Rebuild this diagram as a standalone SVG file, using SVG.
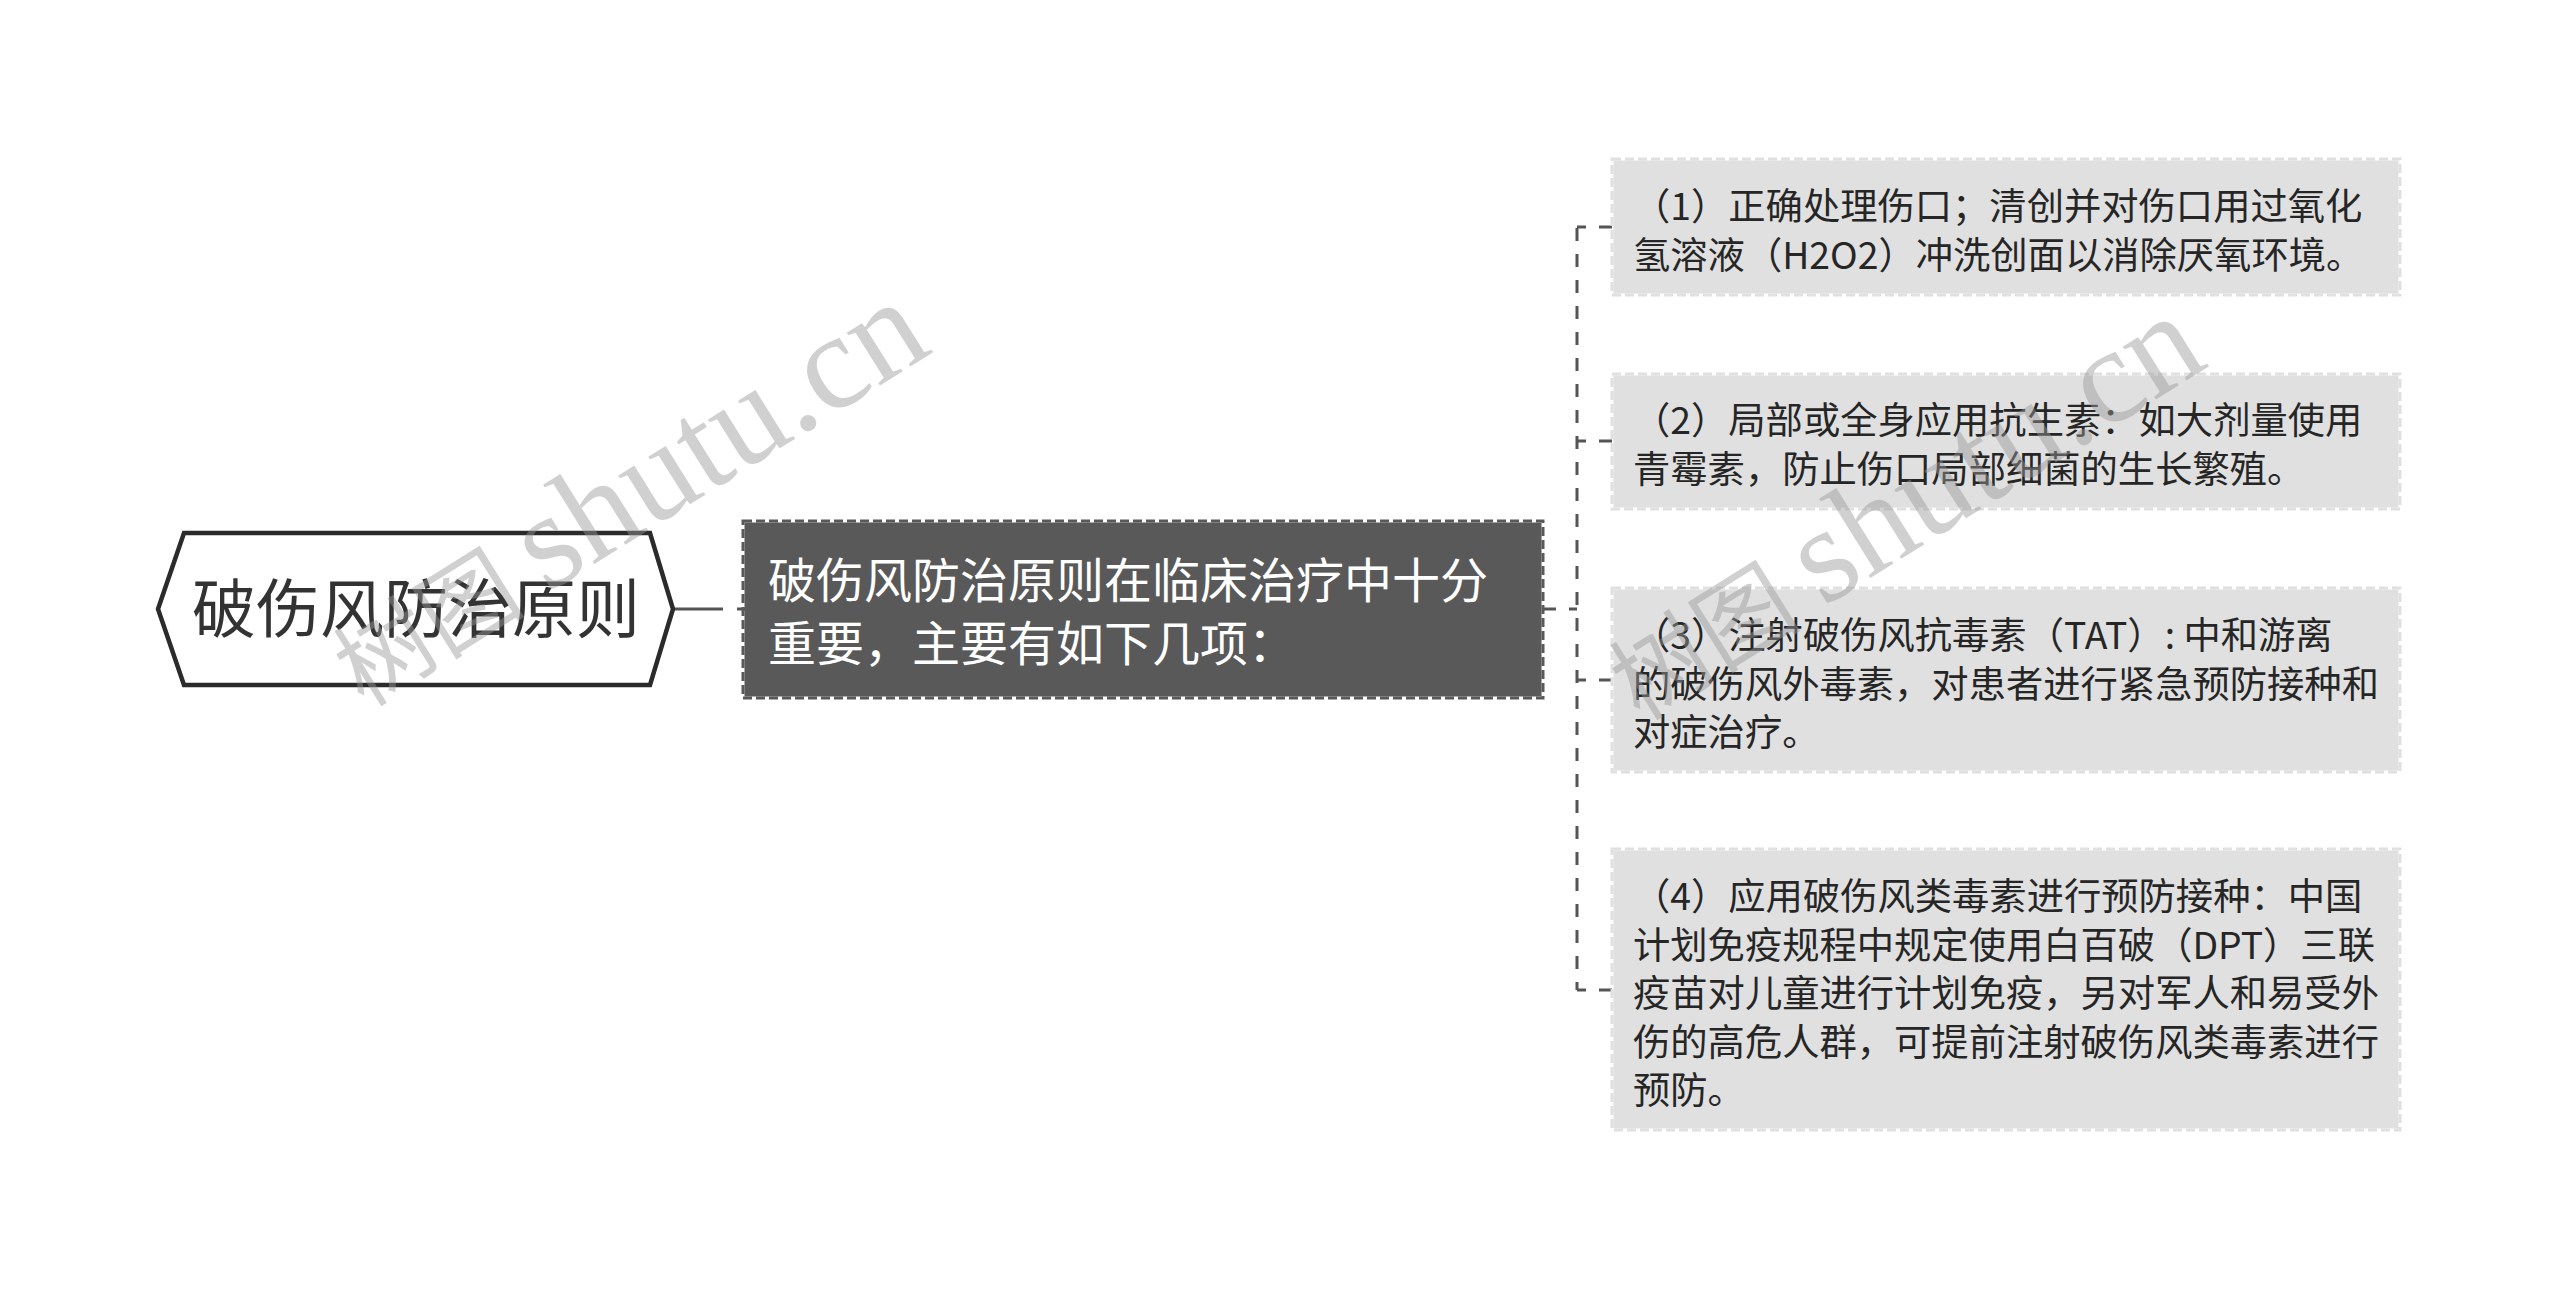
<svg xmlns="http://www.w3.org/2000/svg" width="2560" height="1291" viewBox="0 0 2560 1291">
<style>
.cn{font-family:"Noto Sans CJK SC","Noto Sans",sans-serif;}
.root-t{font-size:64px;fill:#333;}
.mid-t{font-size:48px;fill:#fff;}
.leaf-t{font-size:37.3px;fill:#262626;}
.leaf-bg{fill:#e0e0e0;}
.leaf-bd{fill:none;stroke:#e0e0e0;stroke-width:3;stroke-dasharray:9 4;}
.mid-bg{fill:#595959;}
.mid-bd{fill:none;stroke:#595959;stroke-width:3;stroke-dasharray:9 4;}
.conn{fill:none;stroke:#555;stroke-width:3;}
.dash{stroke-dasharray:13 13;}
.wm{font-family:"Liberation Serif","Noto Sans CJK SC",serif;fill:#999;opacity:0.45;}
</style>
<rect x="0" y="0" width="2560" height="1291" fill="#fff"/>
<g id="connectors">
<line class="conn" x1="673" y1="609" x2="723" y2="609"/>
<line class="conn" x1="737" y1="609" x2="745" y2="609"/>
<path class="conn dash" d="M1543 609 H1577"/>
<path class="conn dash" d="M1577 228 V990"/>
<path class="conn dash" d="M1612 227 H1577"/>
<path class="conn dash" d="M1612 441 H1577"/>
<path class="conn dash" d="M1612 680 H1577"/>
<path class="conn dash" d="M1612 990 H1577"/>
</g>
<g id="root">
<polygon points="158,609 184,533 650,533 673,609 650,685 184,685" fill="#fff" stroke="#2b2b2b" stroke-width="4.5" stroke-linejoin="miter"/>
<text class="cn root-t" x="416" y="632" text-anchor="middle">破伤风防治原则</text>
</g>
<g id="main">
<rect class="mid-bg" x="744.5" y="522.5" width="797" height="174"/>
<rect class="mid-bd" x="743" y="521" width="800" height="177"/>
<text class="cn mid-t" x="768"><tspan x="768" y="598">破伤风防治原则在临床治疗中十分</tspan><tspan x="768" y="661">重要，主要有如下几项：</tspan></text>
</g>
<g id="item1">
<rect class="leaf-bg" x="1613.5" y="160.5" width="785" height="133"/>
<rect class="leaf-bd" x="1612" y="159" width="788" height="136"/>
<text class="cn leaf-t"><tspan x="1633" y="220">（1）正确处理伤口；清创并对伤口用过氧化</tspan><tspan x="1633" y="268.5">氢溶液（H2O2）冲洗创面以消除厌氧环境。</tspan></text>
</g>
<g id="item2">
<rect class="leaf-bg" x="1613.5" y="375.5" width="785" height="132"/>
<rect class="leaf-bd" x="1612" y="374" width="788" height="135"/>
<text class="cn leaf-t"><tspan x="1633" y="434">（2）局部或全身应用抗生素：如大剂量使用</tspan><tspan x="1633" y="482.5">青霉素，防止伤口局部细菌的生长繁殖。</tspan></text>
</g>
<g id="item3">
<rect class="leaf-bg" x="1613.5" y="589.5" width="785" height="181"/>
<rect class="leaf-bd" x="1612" y="588" width="788" height="184"/>
<text class="cn leaf-t"><tspan x="1633" y="649">（3）注射破伤风抗毒素（TAT）: 中和游离</tspan><tspan x="1633" y="697.5">的破伤风外毒素，对患者进行紧急预防接种和</tspan><tspan x="1633" y="746">对症治疗。</tspan></text>
</g>
<g id="item4">
<rect class="leaf-bg" x="1613.5" y="850.5" width="785" height="278"/>
<rect class="leaf-bd" x="1612" y="849" width="788" height="281"/>
<text class="cn leaf-t"><tspan x="1633" y="910">（4）应用破伤风类毒素进行预防接种：中国</tspan><tspan x="1633" y="958.5">计划免疫规程中规定使用白百破（DPT）三联</tspan><tspan x="1633" y="1007">疫苗对儿童进行计划免疫，另对军人和易受外</tspan><tspan x="1633" y="1055.5">伤的高危人群，可提前注射破伤风类毒素进行</tspan><tspan x="1633" y="1104">预防。</tspan></text>
</g>
<g id="watermarks">
<text class="wm" transform="translate(364,708) rotate(-32)"><tspan font-size="96">树图</tspan><tspan font-size="136" dx="24">shutu.cn</tspan></text>
<text class="wm" transform="translate(1640,722) rotate(-32)"><tspan font-size="96">树图</tspan><tspan font-size="136" dx="24">shutu.cn</tspan></text>
</g>
</svg>
